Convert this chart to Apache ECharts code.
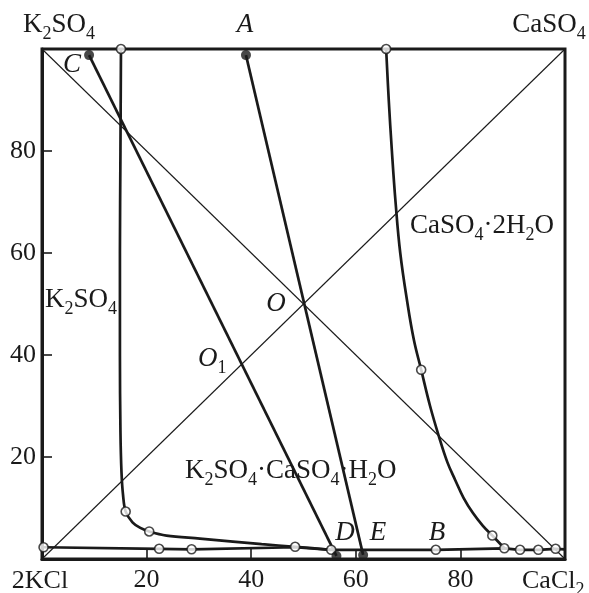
<!DOCTYPE html>
<html>
<head>
<meta charset="utf-8">
<script src="https://cdn.jsdelivr.net/npm/echarts@6/dist/echarts.min.js"></script>
<style>html,body{margin:0;padding:0;background:#fff;}#c{width:589px;height:593px;}</style>
</head>
<body>
<div id="c"></div>
<script>
// ---- data (percent coordinates: x = CaCl2 share, y = sulfate share) ----
const xTicks = [20, 40, 60, 80];
const yTicks = [20, 40, 60, 80];
const diagonalRising = [[0, 0], [100, 100]];
const diagonalFalling = [[0, 100], [100, 0]];
const k2so4Boundary = [[15.1,100],[15.0,80],[14.9,60],[14.9,40],[15.0,25],[15.2,17],[15.5,12.5],[16.0,9.3],[17.3,7.2],[18.8,6.1],[20.5,5.4],[23.8,4.6],[30.2,4.0],[36.5,3.4],[42.0,2.9],[48.4,2.4],[55.3,1.8]];
const gypsumBoundary = [[65.8,100],[66.3,90],[66.9,80],[67.6,70],[68.5,60],[69.9,50],[71.1,43],[72.5,37.1],[74.2,30],[75.9,24],[77.5,19],[79.0,15.5],[80.6,12],[82.4,9.0],[84.3,6.5],[86.1,4.6],[88.4,2.1]];
const chlorideLine = [[0.3,2.3],[22.4,2.0],[28.6,1.9],[48.4,2.3],[55.3,1.8],[75.3,1.8],[88.4,2.1],[91.4,1.8],[94.9,1.8],[98.2,2.0],[100,1.9]];
const lineCD = [[9.0,98.8],[56.3,0.6]];
const lineAE = [[39.0,98.8],[61.4,0.8]];
const openPoints = [[0.3,2.3],[15.1,100],[65.8,100],[16.0,9.3],[20.5,5.4],[22.4,2.0],[28.6,1.9],[48.4,2.4],[55.3,1.8],[75.3,1.8],[72.5,37.1],[86.1,4.6],[88.4,2.1],[91.4,1.8],[94.9,1.8],[98.2,2.0]];
const filledPoints = [[9.0,98.8],[39.0,98.8],[56.3,0.6],[61.4,0.8]];

const INK = '#1a1a1a';
const FONT = 'Liberation Serif';
const chart = echarts.init(document.getElementById('c'), null, {renderer: 'canvas'});

function rich(size) {
  return {
    m: {fontSize: size, fontFamily: FONT, color: INK, lineHeight: 36},
    s: {fontSize: 18, fontFamily: FONT, color: INK, lineHeight: 18, verticalAlign: 'bottom'},
    i: {fontSize: size, fontFamily: FONT, color: INK, lineHeight: 36, fontStyle: 'italic'}
  };
}
function label(text, x, y, align, size) {
  return {
    type: 'text', x: x, y: y, z: 100,
    style: {text: text, rich: rich(size || 27), align: align || 'center', verticalAlign: 'middle',
            textAlign: align || 'center', textVerticalAlign: 'middle', fill: INK}
  };
}

function thickLine(data, smooth) {
  return {type: 'line', data: data, smooth: smooth || false, symbol: 'none',
          lineStyle: {color: INK, width: 2.7}, z: 3, silent: true};
}

const option = {
  animation: false,
  backgroundColor: '#fff',
  grid: {left: 42, right: 24, top: 49, bottom: 34, show: true, borderColor: INK, borderWidth: 3, backgroundColor: 'transparent'},
  xAxis: {
    type: 'value', min: 0, max: 100, interval: 20,
    axisLine: {show: true, lineStyle: {color: INK, width: 3}},
    axisTick: {show: true, inside: true, length: 10, lineStyle: {color: INK, width: 1.6}},
    axisLabel: {
      show: true, margin: 8, fontFamily: FONT, fontSize: 26, color: INK,
      formatter: function (v) { return xTicks.indexOf(v) >= 0 ? String(v) : ''; }
    },
    splitLine: {show: false}
  },
  yAxis: {
    type: 'value', min: 0, max: 100, interval: 20,
    axisLine: {show: true, lineStyle: {color: INK, width: 3}},
    axisTick: {show: true, inside: true, length: 10, lineStyle: {color: INK, width: 1.6}},
    axisLabel: {
      show: true, margin: 6, fontFamily: FONT, fontSize: 26, color: INK,
      formatter: function (v) { return yTicks.indexOf(v) >= 0 ? String(v) : ''; }
    },
    splitLine: {show: false}
  },
  series: [
    {type: 'line', data: diagonalRising, symbol: 'none', lineStyle: {color: INK, width: 1.1}, z: 2, silent: true},
    {type: 'line', data: diagonalFalling, symbol: 'none', lineStyle: {color: INK, width: 1.1}, z: 2, silent: true},
    thickLine(k2so4Boundary, 0.35),
    thickLine(gypsumBoundary, 0.4),
    thickLine(chlorideLine, false),
    thickLine(lineCD, false),
    thickLine(lineAE, false),
    {type: 'scatter', data: openPoints, symbol: 'circle', symbolSize: 9,
     itemStyle: {color: '#fff', borderColor: INK, borderWidth: 1.6}, z: 5, silent: true},
    {type: 'scatter', data: filledPoints, symbol: 'circle', symbolSize: 10,
     itemStyle: {color: INK}, z: 5, silent: true}
  ],
  graphic: [
    label('{m|K}{s|2}{m|SO}{s|4}', 59, 25),
    label('{m|CaSO}{s|4}', 549, 25),
    label('{i|A}', 245, 25),
    label('{i|C}', 72, 65),
    label('{m|K}{s|2}{m|SO}{s|4}', 45, 300, 'left'),
    label('{i|O}', 276, 304),
    label('{i|O}{s|1}', 198, 359, 'left'),
    label('{m|CaSO}{s|4}{m|·2H}{s|2}{m|O}', 410, 226, 'left'),
    label('{m|K}{s|2}{m|SO}{s|4}{m|·CaSO}{s|4}{m|·H}{s|2}{m|O}', 185, 471, 'left'),
    label('{i|D}', 345, 533),
    label('{i|E}', 378, 533),
    label('{i|B}', 437, 533),
    label('{m|2KCl}', 40, 581, 'center', 26),
    label('{m|CaCl}{s|2}', 522, 581, 'left', 26)
  ]
};
chart.setOption(option);
</script>
</body>
</html>
